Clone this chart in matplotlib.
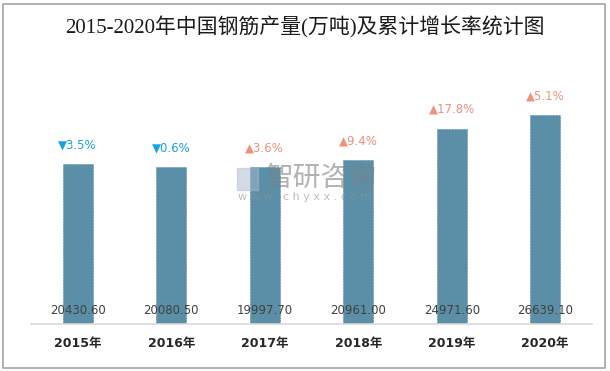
import matplotlib.pyplot as plt
from matplotlib.patches import Rectangle

years = ["2015年", "2016年", "2017年", "2018年", "2019年", "2020年"]
output = [20430.60, 20080.50, 19997.70, 20961.00, 24971.60, 26639.10]
growth = [-3.5, -0.6, 3.6, 9.4, 17.8, 5.1]

plt.rcParams["font.family"] = ["DejaVu Sans", "Noto Sans CJK SC"]

W, H = 610, 371
fig = plt.figure(figsize=(W / 100, H / 100), dpi=100)

# outer grey frame
fig.patches.append(Rectangle((3 / W, 3 / H), 602 / W, 364 / H, transform=fig.transFigure,
                             fill=False, edgecolor="#a6a6a6", lw=1.2))

ax = fig.add_axes([31 / W, (H - 324) / H, 561 / W, 274 / H])
x = range(len(years))
ax.bar(x, output, width=0.32, color="#5b8fa8", edgecolor="#50849c", lw=0.4, ls="--", zorder=2)
ax.set_xlim(-0.5, len(years) - 0.5)
ax.set_ylim(0, 35000)

for s in ["top", "right", "left"]:
    ax.spines[s].set_visible(False)
ax.spines["bottom"].set_color("#d9d9d9")
ax.spines["bottom"].set_linewidth(1.2)
ax.set_yticks([])
ax.set_xticks(list(x))
ax.set_xticklabels(years, fontsize=9, fontweight="bold", color="#262626",
                   family=["DejaVu Sans", "Noto Sans CJK SC"])
ax.tick_params(axis="x", length=0, pad=9)

for i, (v, g) in enumerate(zip(output, growth)):
    ax.annotate(f"{v:.2f}", (i, 0), xytext=(0, 5), textcoords="offset points",
                ha="center", va="bottom", fontsize=8.5, color="#404040", zorder=4)
    if g < 0:
        txt, col = f"▼{abs(g):.1f}%", "#1aa1e0"
    else:
        txt, col = f"▲{g:.1f}%", "#f0917a"
    ax.annotate(txt, (i, v), xytext=(0, 9), textcoords="offset points",
                ha="center", va="bottom", fontsize=8.5, color=col)

# watermark
fig.text(321 / W, 1 - 178 / H, "智研咨询", ha="center", va="center", fontsize=20,
         color="#7f7f7f", alpha=0.6, family="Noto Sans CJK SC", zorder=5)
fig.text(305 / W, 1 - 197 / H, "w w w . c h y x x . c o m", ha="center", va="center",
         fontsize=8, color="#8f8f8f", alpha=0.6, zorder=5)
fig.patches.append(Rectangle((237 / W, 1 - 190 / H), 21 / W, 22 / H, transform=fig.transFigure,
                             color="#aab8d0", alpha=0.5, zorder=5))

fig.text(0.5, 1 - 27 / H, "2015-2020年中国钢筋产量(万吨)及累计增长率统计图", ha="center", va="center",
         fontsize=15, color="#1a1a1a",
         family=["Liberation Serif", "Noto Sans CJK SC"])

fig.savefig("out.png", dpi=100)
